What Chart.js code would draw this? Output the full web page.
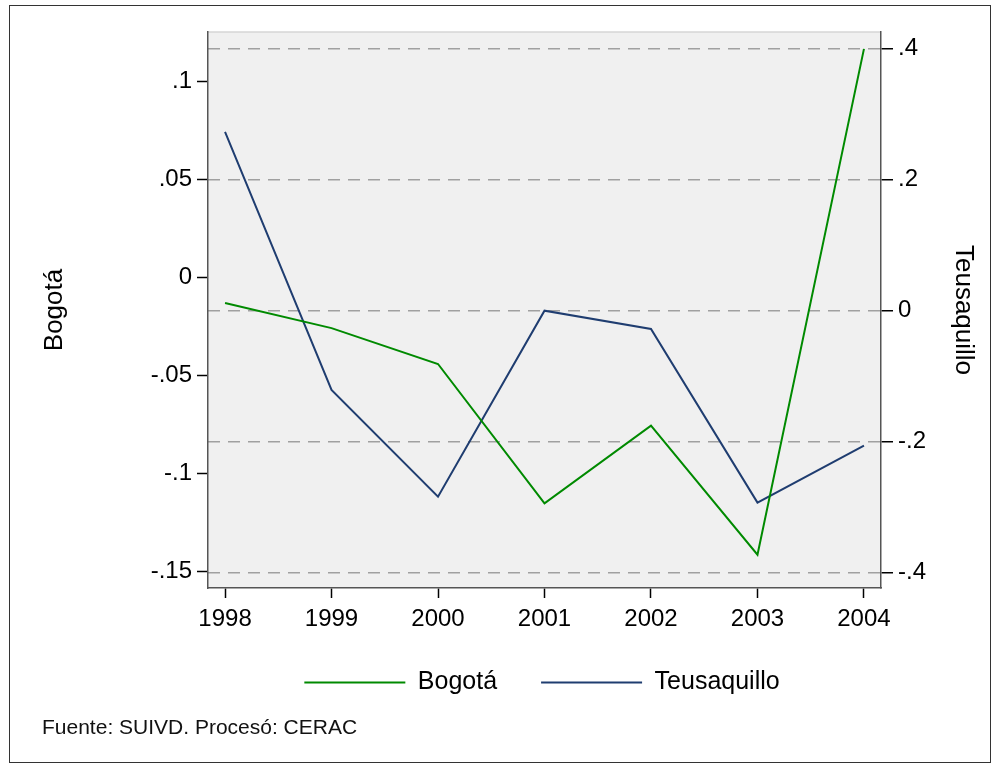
<!DOCTYPE html>
<html>
<head>
<meta charset="utf-8">
<script src="https://cdn.jsdelivr.net/npm/chart.js@4.4.0/dist/chart.umd.min.js"></script>
<style>
  html, body { margin: 0; padding: 0; background: #fff; }
  #wrap { position: relative; width: 999px; height: 767px; }
  #frame { position: absolute; left: 9px; top: 5px; width: 980px; height: 756px; border: 1px solid #333; pointer-events: none; }
  #note { position: absolute; left: 42px; top: 715px; font: 21px "Liberation Sans", Arial, sans-serif; color: #111; line-height: 24px; }
</style>
</head>
<body>
<div id="wrap">
  <canvas id="c" width="999" height="767"></canvas>
  <div id="frame"></div>
  <div id="note">Fuente: SUIVD. Procesó: CERAC</div>
</div>
<script>
// ===== datos =====
const years = [1998, 1999, 2000, 2001, 2002, 2003, 2004];
const bogota = [-0.0129, -0.0257, -0.044, -0.1151, -0.0755, -0.1413, 0.1168];
const teusaquillo = [0.273, -0.121, -0.284, 0.0, -0.028, -0.293, -0.206];

const leftTicks = [-0.15, -0.1, -0.05, 0, 0.05, 0.1];
const leftTickLabels = ['-.15', '-.1', '-.05', '0', '.05', '.1'];
const rightTicks = [-0.4, -0.2, 0, 0.2, 0.4];
const rightTickLabels = ['-.4', '-.2', '0', '.2', '.4'];

Chart.defaults.font.family = '"Liberation Sans", Arial, sans-serif';
Chart.defaults.font.size = 24;
Chart.defaults.color = '#000';

// fondo gris del area del grafico + borde superior claro
const plotBg = {
  id: 'plotBg',
  beforeDraw(chart) {
    const { ctx, chartArea: a } = chart;
    ctx.save();
    ctx.fillStyle = '#f0f0f0';
    ctx.fillRect(a.left, a.top, a.right - a.left, a.bottom - a.top);
    ctx.strokeStyle = '#d6d6d6';
    ctx.lineWidth = 1.5;
    ctx.beginPath();
    ctx.moveTo(a.left, a.top);
    ctx.lineTo(a.right, a.top);
    ctx.stroke();
    ctx.restore();
  }
};

new Chart(document.getElementById('c'), {
  type: 'line',
  data: {
    datasets: [
      { label: 'Bogotá', data: years.map((y, i) => ({ x: y, y: bogota[i] })), yAxisID: 'yL',
        borderColor: '#008a00', backgroundColor: '#008a00', borderWidth: 2, pointRadius: 0, tension: 0 },
      { label: 'Teusaquillo', data: years.map((y, i) => ({ x: y, y: teusaquillo[i] })), yAxisID: 'yR',
        borderColor: '#1f3d70', backgroundColor: '#1f3d70', borderWidth: 2, pointRadius: 0, tension: 0 }
    ]
  },
  options: {
    responsive: false,
    animation: false,
    layout: { padding: { left: 85, right: 0, top: 32, bottom: 62 } },
    plugins: {
      legend: {
        position: 'bottom',
        labels: { usePointStyle: true, pointStyle: 'line', pointStyleWidth: 101, padding: 44, font: { size: 25 } }
      },
      tooltip: { enabled: false }
    },
    scales: {
      x: {
        type: 'linear', min: 1997.84, max: 2004.16,
        afterBuildTicks: s => { s.ticks = years.map(v => ({ value: v })); },
        afterFit: s => { s.height = 38; },
        ticks: { callback: v => String(v), padding: 7, maxRotation: 0, autoSkip: false },
        grid: { drawOnChartArea: false, tickLength: 10, tickColor: '#000', tickWidth: 1.5 },
        border: { color: '#555', width: 1.5 }
      },
      yL: {
        position: 'left', min: -0.1583, max: 0.1254,
        afterBuildTicks: s => { s.ticks = leftTicks.map(v => ({ value: v })); },
        afterFit: s => { s.width = 123; },
        ticks: { callback: v => leftTickLabels[leftTicks.indexOf(v)], padding: 5 },
        title: { display: true, text: 'Bogotá', font: { size: 26 }, padding: { top: -45.6, bottom: 0 } },
        grid: { drawOnChartArea: false, tickLength: 11, tickColor: '#000', tickWidth: 1.5 },
        border: { color: '#555', width: 1.5 }
      },
      yR: {
        position: 'right', min: -0.4234, max: 0.4255,
        afterBuildTicks: s => { s.ticks = rightTicks.map(v => ({ value: v })); },
        afterFit: s => { s.width = 118; },
        ticks: { callback: v => rightTickLabels[rightTicks.indexOf(v)], padding: 5 },
        title: { display: true, text: 'Teusaquillo', font: { size: 26 }, padding: { top: 20.4, bottom: 0 } },
        grid: { color: '#a0a0a0', lineWidth: 1.5, tickLength: 12, tickColor: '#000', tickWidth: 1.5, tickBorderDash: [] },
        border: { dash: [12, 8], color: '#555', width: 1.5 }
      }
    }
  },
  plugins: [plotBg]
});
</script>
</body>
</html>
